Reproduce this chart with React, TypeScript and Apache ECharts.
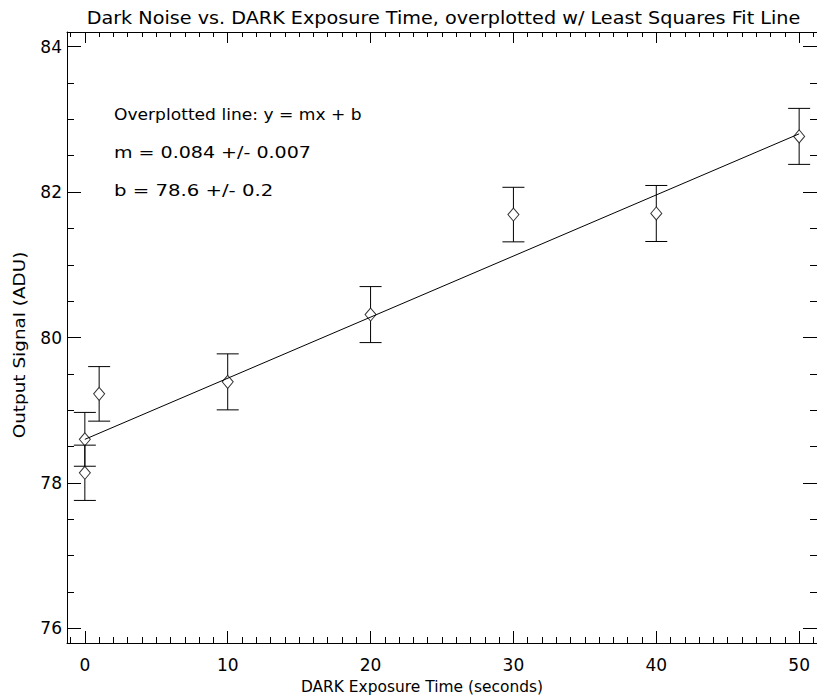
import React, { useEffect, useRef } from "react";
import * as echarts from "echarts";

const exposureTimes = [0, 0, 1, 10, 20, 30, 40, 50];
const outputSignal = [78.6, 78.14, 79.225, 79.39, 80.315, 81.69, 81.705, 82.765];
const signalErrors = [0.37, 0.38, 0.375, 0.385, 0.385, 0.375, 0.385, 0.385];
const fitSlope = 0.084;
const fitIntercept = 78.6;
const fitXs = [0, 50];
const annotationLines = [
  "Overplotted line: y = mx + b",
  "m = 0.084 +/- 0.007",
  "b = 78.6 +/- 0.2",
];
const titleText = "Dark Noise vs. DARK Exposure Time, overplotted w/ Least Squares Fit Line";
const xAxisName = "DARK Exposure Time (seconds)";
const yAxisName = "Output Signal (ADU)";

const FONT = "DejaVu Sans";
const X_MIN = -1.25;
const X_MAX = 51.25;
const Y_MIN = 75.8;
const Y_MAX = 84.2;
const DIAMOND_W = 11;
const DIAMOND_H = 13;
const ANNOT_SCALES = [1.07, 1.19, 1.23];

export default function App() {
  const ref = useRef<HTMLDivElement>(null);
  useEffect(() => {
    if (!ref.current) return;
    const chart = echarts.init(ref.current, undefined, { renderer: "svg" });
    const pts = exposureTimes.map((x, i) => [x, outputSignal[i], signalErrors[i]]);
    const fitData = fitXs.map((x) => [x, fitIntercept + fitSlope * x]);

    const baseAxisLine = { show: true, onZero: false, lineStyle: { color: "#000", width: 1 } };

    const option: any = {
      animation: false,
      backgroundColor: "#fff",
      grid: { left: 67, right: -3.4, top: 32, bottom: 52, containLabel: false },
      xAxis: [
        {
          type: "value",
          min: X_MIN,
          max: X_MAX,
          splitNumber: 5,
          position: "bottom",
          axisLine: baseAxisLine,
          axisTick: { show: true, inside: true, length: 12, lineStyle: { color: "#000" } },
          minorTick: { show: true, splitNumber: 10, length: 6, lineStyle: { color: "#000" } },
          axisLabel: {
            show: true,
            showMinLabel: false,
            showMaxLabel: false,
            color: "#000",
            fontFamily: FONT,
            fontSize: 17,
            margin: 13,
          },
          splitLine: { show: false },
        },
        {
          type: "value",
          min: X_MIN,
          max: X_MAX,
          splitNumber: 5,
          position: "top",
          axisLine: baseAxisLine,
          axisTick: { show: true, inside: true, length: 11, lineStyle: { color: "#000" } },
          minorTick: { show: true, splitNumber: 10, length: 5, lineStyle: { color: "#000" } },
          axisLabel: { show: false },
          splitLine: { show: false },
        },
      ],
      yAxis: [
        {
          type: "value",
          min: Y_MIN,
          max: Y_MAX,
          splitNumber: 5,
          position: "left",
          axisLine: baseAxisLine,
          axisTick: { show: true, inside: true, length: 14, lineStyle: { color: "#000" } },
          minorTick: { show: true, splitNumber: 4, length: 7, lineStyle: { color: "#000" } },
          axisLabel: {
            show: true,
            showMinLabel: false,
            showMaxLabel: false,
            color: "#000",
            fontFamily: FONT,
            fontSize: 17,
            margin: 5,
          },
          splitLine: { show: false },
        },
        {
          type: "value",
          min: Y_MIN,
          max: Y_MAX,
          splitNumber: 5,
          position: "right",
          axisLine: baseAxisLine,
          axisTick: { show: true, inside: true, length: 14, lineStyle: { color: "#000" } },
          minorTick: { show: true, splitNumber: 4, length: 7, lineStyle: { color: "#000" } },
          axisLabel: { show: false },
          splitLine: { show: false },
        },
      ],
      series: [
        {
          type: "custom",
          xAxisIndex: 0,
          yAxisIndex: 0,
          data: pts,
          z: 2,
          renderItem: (params: any, api: any) => {
            const x = api.value(0);
            const y = api.value(1);
            const e = api.value(2);
            const top = api.coord([x, y + e]);
            const bot = api.coord([x, y - e]);
            const mid = api.coord([x, y]);
            const hw = 11;
            const st = { stroke: "#000", lineWidth: 1 };
            return {
              type: "group",
              children: [
                { type: "line", shape: { x1: top[0] - hw, y1: top[1], x2: top[0] + hw, y2: top[1] }, style: st },
                { type: "line", shape: { x1: bot[0] - hw, y1: bot[1], x2: bot[0] + hw, y2: bot[1] }, style: st },
                { type: "line", shape: { x1: top[0], y1: top[1], x2: top[0], y2: mid[1] - DIAMOND_H / 2 }, style: st },
                { type: "line", shape: { x1: bot[0], y1: mid[1] + DIAMOND_H / 2, x2: bot[0], y2: bot[1] }, style: st },
              ],
            };
          },
        },
        {
          type: "line",
          xAxisIndex: 0,
          yAxisIndex: 0,
          data: fitData,
          showSymbol: false,
          symbol: "none",
          lineStyle: { color: "#000", width: 1 },
          z: 3,
        },
        {
          type: "scatter",
          xAxisIndex: 0,
          yAxisIndex: 0,
          data: pts.map((p) => [p[0], p[1]]),
          symbol: "diamond",
          symbolSize: [DIAMOND_W, DIAMOND_H],
          itemStyle: { color: "rgba(0,0,0,0)", borderColor: "#000", borderWidth: 1 },
          z: 4,
        },
      ],
      graphic: [
        {
          type: "text",
          x: 443.5,
          y: 18,
          scaleX: 1.13,
          style: { text: titleText, font: `17px '${FONT}'`, fill: "#000", align: "center", verticalAlign: "middle" },
        },
        {
          type: "text",
          x: 422,
          y: 686,
          scaleX: 0.965,
          style: { text: xAxisName, font: `16px '${FONT}'`, fill: "#000", align: "center", verticalAlign: "middle" },
        },
        {
          type: "text",
          x: 19,
          y: 345,
          rotation: Math.PI / 2,
          scaleX: 1.15,
          style: { text: yAxisName, font: `16px '${FONT}'`, fill: "#000", align: "center", verticalAlign: "middle" },
        },
        ...annotationLines.map((t, i) => ({
          type: "text",
          x: 114,
          y: 115 + i * 37.5,
          scaleX: ANNOT_SCALES[i],
          style: { text: t, font: `16px '${FONT}'`, fill: "#000", align: "left", verticalAlign: "middle" },
        })),
      ],
    };
    chart.setOption(option);
    return () => chart.dispose();
  }, []);
  return (
    <div
      ref={ref}
      style={{ position: "fixed", left: 0, top: 0, width: 817, height: 695, background: "#fff" }}
    />
  );
}
